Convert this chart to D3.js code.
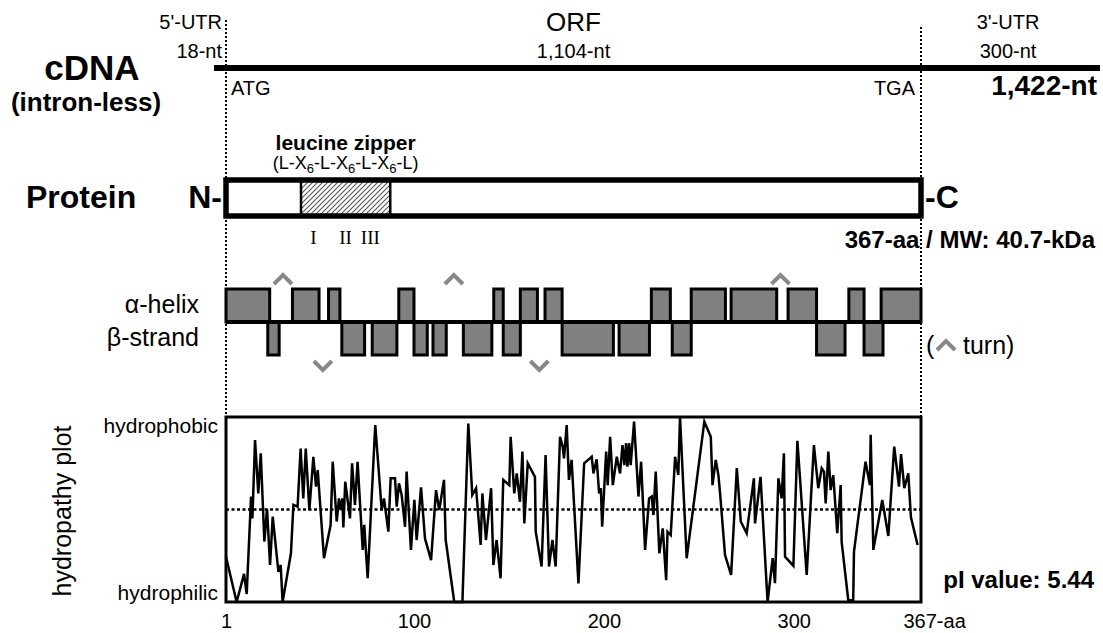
<!DOCTYPE html>
<html>
<head>
<meta charset="utf-8">
<script src="https://cdn.jsdelivr.net/npm/d3@7"></script>
<style>
  body { margin: 0; background: #fff; }
  svg { display: block; }
  text { font-family: "Liberation Sans", Arial, sans-serif; fill: #000; }
</style>
</head>
<body>
<svg id="chart" width="1103" height="633"></svg>
<script>
// ---- DATA ---- //

const proteinLength = 367;
const zipper = [40.5, 87.5];
const zipperRepeats = ["I", "II", "III"];
const zipperRepeatPos = [47, 64, 77];

const helix = [[1, 24], [36, 50], [55, 61], [92, 100], [142, 147], [156, 165], [169, 178],
    [225, 235], [246, 264], [267, 291], [297, 312], [329, 337], [346, 367]];
const strand = [[23, 29], [62, 74], [78, 91], [100, 107], [110, 117], [126, 141], [147, 156],
    [178, 205], [208, 224], [236, 246], [312, 327], [337, 347]];
const turnsUp = [31, 121, 293];
const turnsDown = [52, 166];

const hydroPos = [1, 6.6, 10.5, 11.9, 14.2, 14.9, 16.3, 18, 19.3, 21.2, 22.6, 24.2, 25.6, 28.6, 29.8, 30.8,
    35.2, 36.5, 38.7, 40.3, 41.7, 43, 44.9, 47, 48.4, 49.3, 52.6, 56.1, 57.2, 59.3, 60.5, 61.4, 62.3, 62.8,
    63.8, 66.3, 67.4, 68.9, 70.3, 73, 73.8, 75.6, 79.6, 83, 84.2, 86.5, 87.7, 90, 90.9,
    92.1, 93.5, 95.3, 96.1, 98.4, 100.2, 101.4, 103.7, 105.8, 109, 111.6, 113.3, 115.8, 116.7, 121.2, 125.5,
    128.6, 130.7, 132.7, 135.1, 136, 137.9, 140.6, 141.8, 143.5, 145.6, 147, 150.2, 150.9, 152.8, 154.1,
    155.8, 157.1, 158.1, 159.9, 163.7, 164.1, 167.2, 169.3, 171.1, 172.9, 174.6, 176.9, 178.3, 179, 180.4,
    181.6, 183, 186.6, 189.6, 193.6, 194.5, 196.2, 197.5, 198.4, 199.1, 201.2, 202, 203.3, 204.7, 206.8,
    208.5, 209.8, 210.8, 211.7, 212.4, 213.3, 214.1, 215.9, 218.2, 219.6, 221.7, 223.8, 225.2, 226.1, 227.3,
    229.2, 231, 232.8, 233.5, 235.2, 237.5, 239.2, 240.1, 243.6, 252.9, 256.3, 257.2, 258.9, 260.3, 261.2,
    263.8, 267, 270, 272.1, 275.2, 279, 279.6, 282.5, 286.2, 288.9, 290.1, 291.9, 293.6, 294.8, 295.4,
    299.8, 301.9, 306.8, 310.6, 312.9, 314.7, 315.9, 316.8, 318.2, 319.4, 320.8, 322.9, 324.7, 325.2,
    328.7, 331.3, 331.7, 337.8, 340.1, 340.5, 341.9, 346.6, 349.8, 352.9, 355.4, 356.5, 358.2, 360.3,
    361.7, 365.2];
const hydroVal = [-1.53, -3, -2.09, -2.74, 0.42, -0.29, 2.25, 0.52, 1.82, -1.04, 0.02, -1.8, -0.23, -2.02, -1.8, -3,
    -1.42, 0.15, 0.09, 1.98, 0.36, 1.98, -0.02, 1.71, 0.74, 1.28, -1.58, -0.5, 1.55, -0.39, 0.36, -0.02, 0.36, -0.58,
    0.9, -0.29, 1.5, 0.15, 1.55, -1.31, -0.5, -2.23, 2.74, -0.02, 0.36, -0.72, 1.01, 1.01, 0.09,
    0.85, 0.47, -0.56, 1.23, -1.31, 0.31, -0.99, 0.72, -0.94, -1.64, 0.63, -0.02, 0.96, -0.99, -3, -3,
    2.79, 0.47, 0.69, -1.15, 0.52, -0.99, 0.69, -1.8, -0.99, -2.23, 0.96, 0.79, 2.36, 0.52, 1.17,
    0.25, 1.88, -0.45, 1.5, 1.06, -0.72, -1.85, 1.77, -1.85, -0.99, -1.85, 2.36, 2.04, 1.66, 2.74,
    0.96, 1.61, -2.4, 1.5, 1.71, 1.17, 1.63, 0.52, 0.69, -0.56, 1.88, 0.79, 2.36, 0.79, 1.71,
    1.17, 2.09, 1.44, 2.15, 1.39, 2.15, 1.44, 2.85, 0.42, 1.55, -1.31, 0.36, 0.42, -0.18, 1.23,
    -1.42, -0.61, -2.29, -0.72, -0.83, 1.71, 1.12, 3, -1.58, 2.85, 2.36, 0.79, 1.61, 1.12, 0.52,
    -1.48, -2.12, 1.34, -0.39, -0.77, 1.01, -0.45, 1.06, -3, -1.58, -2.39, 1.01, 0.36, 1.82, -1.53,
    -1.83, 2.23, -2.12, 2.09, 0.69, 1.34, 1.23, 0.2, 1.88, 0.63, 1.12, -0.77, 0.79, -1.04,
    -2.94, -2.94, -1.37, 1.55, 0.79, 2.42, -1.31, 0.31, -0.86, 2.04, 0.74, 1.8, 0.69, 1.17,
    -0.25, -1.15];
const hydroTicks = [1, 100, 200, 300, 367];

const svg = d3.select("#chart");

// ---- SCALES ---- //

const x = d3.scaleLinear().domain([1, proteinLength]).range([226, 921]);
const yH = d3.scaleLinear().domain([-3, 3]).range([602, 417]);

function label(txt, px, py, size, anchor, bold) {
    return svg.append("text")
        .attr("x", px).attr("y", py)
        .attr("font-size", size)
        .attr("text-anchor", anchor || "start")
        .attr("font-weight", bold ? "bold" : "normal")
        .text(txt);
}

// ---- cDNA ----- //

svg.append("line")
    .attr("x1", 214).attr("x2", 1100)
    .attr("y1", 68).attr("y2", 68)
    .attr("stroke", "#000").attr("stroke-width", 6);

[[x(1), 20], [x(proteinLength), 27]].forEach(([lx, top]) => {
    svg.append("line")
        .attr("x1", lx).attr("x2", lx)
        .attr("y1", top).attr("y2", 417)
        .attr("stroke", "#000").attr("stroke-width", 2)
        .attr("stroke-dasharray", "2,2");
});

label("5'-UTR", 222, 29, 20, "end");
label("18-nt", 222, 58, 20, "end");
label("ORF", (x(1) + x(proteinLength)) / 2, 31, 26, "middle");
label("1,104-nt", (x(1) + x(proteinLength)) / 2, 58, 20, "middle");
label("3'-UTR", 1008, 29, 20, "middle");
label("300-nt", 1008, 58, 20, "middle");
label("cDNA", 92, 80, 35, "middle", true);
label("(intron-less)", 86, 111, 26, "middle", true);
label("ATG", 231, 95, 20, "start");
label("TGA", 915, 95, 20, "end");
label("1,422-nt", 1097, 95, 28, "end", true);

// ---- PROTEIN ----- //

const defs = svg.append("defs");
defs.append("pattern")
    .attr("id", "hatch")
    .attr("patternUnits", "userSpaceOnUse")
    .attr("width", 5).attr("height", 5)
    .append("path")
    .attr("d", "M0,5 L5,0 M-1,1 L1,-1 M4,6 L6,4")
    .attr("stroke", "#555").attr("stroke-width", 1.1);

svg.append("rect")
    .attr("x", x(zipper[0])).attr("y", 180)
    .attr("width", x(zipper[1]) - x(zipper[0])).attr("height", 36)
    .attr("fill", "url(#hatch)")
    .attr("stroke", "#000").attr("stroke-width", 2.5);

svg.append("rect")
    .attr("x", x(1)).attr("y", 180)
    .attr("width", x(proteinLength) - x(1)).attr("height", 36)
    .attr("fill", "none")
    .attr("stroke", "#000").attr("stroke-width", 5.5);

label("leucine zipper", x((zipper[0] + zipper[1]) / 2), 150, 21, "middle", true);
const formula = svg.append("text")
    .attr("x", x((zipper[0] + zipper[1]) / 2)).attr("y", 169)
    .attr("font-size", 18).attr("text-anchor", "middle");
["(L-X", "6", "-L-X", "6", "-L-X", "6", "-L)"].forEach((part, i) => {
    const sub = i % 2 === 1;
    formula.append("tspan")
        .attr("dy", sub ? 4 : (i === 0 ? 0 : -4))
        .attr("font-size", sub ? 13 : 18)
        .text(part);
});

zipperRepeats.forEach((r, i) => {
    svg.append("text")
        .attr("x", x(zipperRepeatPos[i])).attr("y", 244)
        .attr("font-size", 19).attr("text-anchor", "middle")
        .style("font-family", "'Liberation Serif', 'Times New Roman', serif")
        .text(r);
});

label("Protein", 26, 208, 32, "start", true);
label("N-", 222, 208, 32, "end", true);
label("-C", 925, 208, 32, "start", true);
label("367-aa / MW: 40.7-kDa", 1095, 248, 24, "end", true);

// ---- SECONDARY STRUCTURE ----- //

const midY = 322;
const blockH = 33;

svg.selectAll(".helix")
    .data(helix)
    .enter()
    .append("rect")
        .attr("class", "helix")
        .attr("x", d => x(d[0]))
        .attr("y", midY - blockH)
        .attr("width", d => x(d[1]) - x(d[0]))
        .attr("height", blockH)
        .attr("fill", "#808080")
        .attr("stroke", "#000").attr("stroke-width", 3);

svg.selectAll(".strand")
    .data(strand)
    .enter()
    .append("rect")
        .attr("class", "strand")
        .attr("x", d => x(d[0]))
        .attr("y", midY)
        .attr("width", d => x(d[1]) - x(d[0]))
        .attr("height", blockH)
        .attr("fill", "#808080")
        .attr("stroke", "#000").attr("stroke-width", 3);

svg.append("line")
    .attr("x1", x(1)).attr("x2", x(proteinLength))
    .attr("y1", midY).attr("y2", midY)
    .attr("stroke", "#000").attr("stroke-width", 4);

function chevron(cx, cy, dir) {
    svg.append("path")
        .attr("d", `M${cx - 9},${cy + 5 * dir} L${cx},${cy - 4 * dir} L${cx + 9},${cy + 5 * dir}`)
        .attr("fill", "none")
        .attr("stroke", "#888").attr("stroke-width", 4);
}
turnsUp.forEach(t => chevron(x(t), 279, 1));
turnsDown.forEach(t => chevron(x(t), 366, -1));

label("\u03b1-helix", 199, 313, 25, "end");
label("\u03b2-strand", 199, 346, 25, "end");
label("(", 926, 354, 25, "start");
chevron(946, 345, 1);
label("turn)", 963, 354, 25, "start");

// ---- HYDROPATHY ----- //

svg.append("rect")
    .attr("x", x(1)).attr("y", yH(3))
    .attr("width", x(proteinLength) - x(1)).attr("height", yH(-3) - yH(3))
    .attr("fill", "none")
    .attr("stroke", "#000").attr("stroke-width", 3);

svg.append("line")
    .attr("x1", x(1)).attr("x2", x(proteinLength))
    .attr("y1", yH(0)).attr("y2", yH(0))
    .attr("stroke", "#000").attr("stroke-width", 2.5)
    .attr("stroke-dasharray", "3,2.5");

const line = d3.line()
    .x(d => x(d[0]))
    .y(d => yH(d[1]));

svg.append("path")
    .attr("d", line(d3.zip(hydroPos, hydroVal)))
    .attr("fill", "none")
    .attr("stroke", "#000").attr("stroke-width", 2.5)
    .attr("stroke-linejoin", "miter");

const xAxis = d3.axisBottom(x)
    .tickValues(hydroTicks)
    .tickSize(0)
    .tickFormat(d => d === proteinLength ? d + "-aa" : d);

const gx = svg.append("g")
    .attr("transform", "translate(0, 611)")
    .call(xAxis);
gx.select(".domain").remove();
gx.selectAll("text")
    .attr("font-size", 20)
    .attr("fill", "#000")
    .style("font-family", "'Liberation Sans', Arial, sans-serif");
gx.selectAll(".tick")
    .filter(d => d === proteinLength)
    .select("text")
    .attr("text-anchor", "start")
    .attr("dx", -18);

label("hydrophobic", 218, 433, 21, "end");
label("hydrophilic", 218, 600, 21, "end");
label("pI value: 5.44", 1094, 588, 24, "end", true);

svg.append("text")
    .attr("transform", "translate(71, 511) rotate(-90)")
    .attr("font-size", 25)
    .attr("text-anchor", "middle")
    .text("hydropathy plot");
</script>
</body>
</html>
